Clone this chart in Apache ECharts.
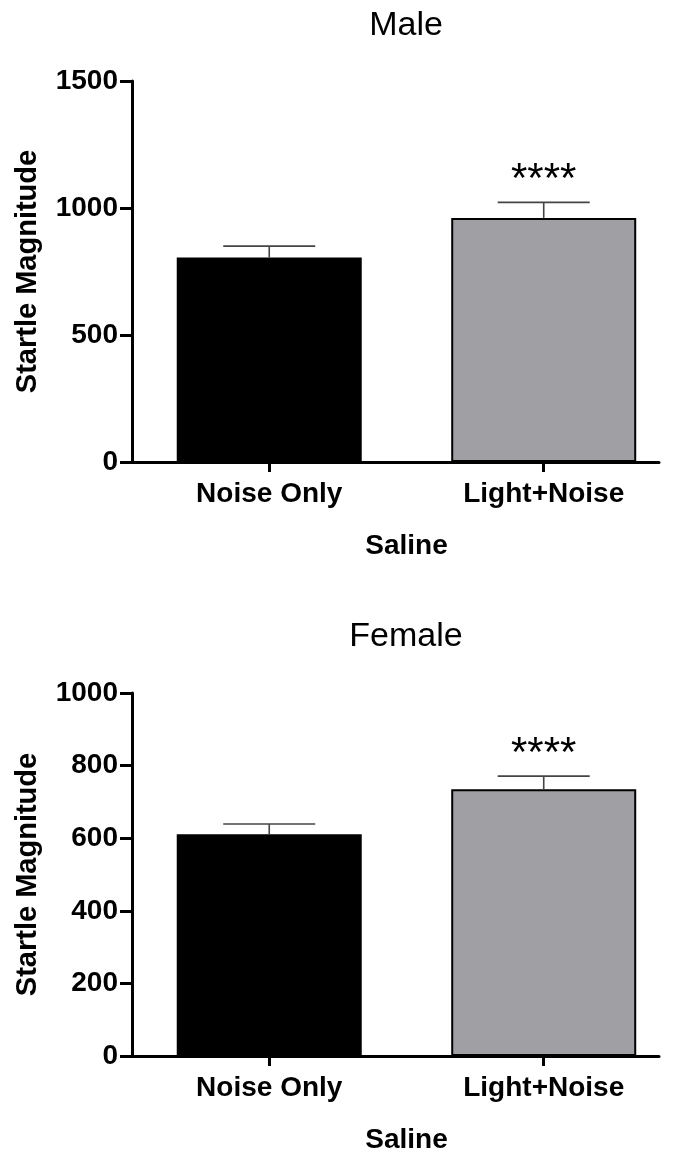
<!DOCTYPE html>
<html><head><meta charset="utf-8">
<script src="https://cdn.jsdelivr.net/npm/echarts@6/dist/echarts.min.js"></script>
<style>html,body{margin:0;padding:0;background:#fff}#c{width:675px;height:1155px}</style>
</head><body><div id="c"></div>
<script>
// ---- data ----
const categories = ['Noise Only', 'Light+Noise'];
const categoryPositions = [0, 1];
const xAxisName = 'Saline';
const yAxisName = 'Startle Magnitude';
const panelTitles = ['Male', 'Female'];
const maleMeans = [805, 961];
const maleErrors = [45, 61];
const femaleMeans = [611, 735];
const femaleErrors = [28, 36];
const significance = ['', '****'];
const maleTicks = [0, 1500, 500];     // min, max, interval
const femaleTicks = [0, 1000, 200];
const barColors = ['#000000', '#a0a0a4'];

// ---- styling ----
const FONT = "'Liberation Sans', Arial, Helvetica, sans-serif";
const grids = [
  { left: 132, top: 81, width: 527, height: 381 },
  { left: 132, top: 693, width: 527, height: 367 }
];

function xAxisFor(i) {
  return {
    type: 'value', gridIndex: i, min: -0.5, max: 1.42,
    axisLine: { show: true, onZero: false, lineStyle: { color: '#000', width: 3 } },
    axisTick: { show: true, customValues: categoryPositions, length: 10, lineStyle: { color: '#000', width: 3 } },
    axisLabel: { customValues: categoryPositions, formatter: v => categories[Math.round(v)] || '',
      color: '#000', fontFamily: FONT, fontWeight: 'bold', fontSize: 28, margin: 18 },
    name: xAxisName, nameLocation: 'middle', nameGap: 70,
    nameTextStyle: { color: '#000', fontFamily: FONT, fontWeight: 'bold', fontSize: 28, padding: [0, 0, 0, 22] },
    splitLine: { show: false }
  };
}
function yAxisFor(i, t) {
  return {
    type: 'value', gridIndex: i, min: t[0], max: t[1], interval: t[2],
    axisLine: { show: true, onZero: false, lineStyle: { color: '#000', width: 3 } },
    axisTick: { show: true, length: 12, lineStyle: { color: '#000', width: 3 } },
    axisLabel: { formatter: v => String(v), color: '#000', fontFamily: FONT, fontWeight: 'bold', fontSize: 28, margin: 14 },
    splitLine: { show: false },
    name: yAxisName, nameLocation: 'middle', nameGap: 90,
    nameTextStyle: { color: '#000', fontFamily: FONT, fontWeight: 'bold', fontSize: 29 }
  };
}
function barSeries(i, means) {
  return {
    type: 'bar', xAxisIndex: i, yAxisIndex: i, barWidth: 185,
    data: means.map((v, k) => ({ value: [categoryPositions[k], v], itemStyle: { color: barColors[k], borderColor: '#000', borderWidth: 2 } })),
    silent: true, animation: false
  };
}
function errSeries(i, means, errs) {
  return {
    type: 'custom', xAxisIndex: i, yAxisIndex: i, z: 5, animation: false, silent: true,
    data: means.map((m, k) => [categoryPositions[k], m, errs[k]]),
    renderItem: function (params, api) {
      const x = api.value(0), m = api.value(1), e = api.value(2);
      const base = api.coord([x, m]);
      const top = api.coord([x, m + e]);
      const hw = 46;
      const ls = { stroke: '#444', lineWidth: 1.6 };
      const children = [
        { type: 'line', shape: { x1: base[0], y1: base[1], x2: top[0], y2: top[1] }, style: ls },
        { type: 'line', shape: { x1: top[0] - hw, y1: top[1], x2: top[0] + hw, y2: top[1] }, style: ls }
      ];
      const sig = significance[params.dataIndex];
      if (sig) {
        children.push({ type: 'text', x: top[0], y: top[1] - 22,
          style: { text: sig, fill: '#000', fontFamily: FONT, fontSize: 42, align: 'center', verticalAlign: 'middle' } });
      }
      return { type: 'group', children: children };
    }
  };
}

const chart = echarts.init(document.getElementById('c'), null, { renderer: 'canvas' });
chart.setOption({
  animation: false,
  backgroundColor: '#fff',
  grid: grids,
  xAxis: [xAxisFor(0), xAxisFor(1)],
  yAxis: [yAxisFor(0, maleTicks), yAxisFor(1, femaleTicks)],
  series: [
    barSeries(0, maleMeans), errSeries(0, maleMeans, maleErrors),
    barSeries(1, femaleMeans), errSeries(1, femaleMeans, femaleErrors)
  ],
  graphic: [
    { type: 'text', x: 406, y: 26, style: { text: panelTitles[0], fill: '#000', fontFamily: FONT, fontSize: 34, align: 'center', verticalAlign: 'middle' } },
    { type: 'text', x: 406, y: 637, style: { text: panelTitles[1], fill: '#000', fontFamily: FONT, fontSize: 34, align: 'center', verticalAlign: 'middle' } }
  ]
});
</script></body></html>
